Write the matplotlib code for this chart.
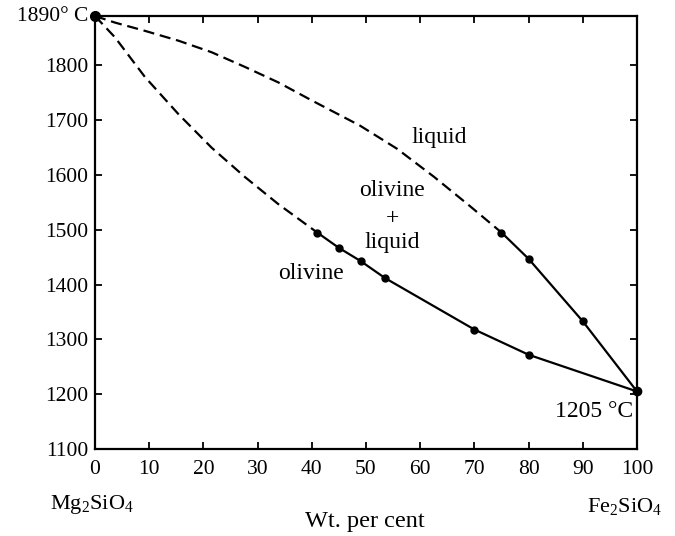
import matplotlib
matplotlib.use("Agg")
import matplotlib.pyplot as plt

plt.rcParams['font.family'] = ['Liberation Serif', 'DejaVu Serif']
plt.rcParams['mathtext.fontset'] = 'custom'
plt.rcParams['mathtext.rm'] = 'Liberation Serif'

liq_dash_x = [0, 3.7, 9.2, 15.4, 21.5, 27.7, 33.8, 40, 48.9, 55.7, 62.5, 69.2, 75]
liq_dash_y = [1890, 1878, 1863, 1845, 1824, 1797, 1769, 1736, 1690, 1648, 1597, 1543, 1495]
liq_pts_x = [75, 80, 90, 100]
liq_pts_y = [1495, 1447, 1333, 1205]

# solidus (lower curve)
sol_dash_x = [0, 3.7, 9.2, 15.4, 21.5, 27.7, 33.8, 41]
sol_dash_y = [1890, 1851, 1779, 1711, 1650, 1596, 1547, 1495]
sol_pts_x = [41, 45, 49, 53.5, 70, 80, 100]
sol_pts_y = [1495, 1467, 1443, 1412, 1318, 1272, 1205]

x_ticks = [0, 10, 20, 30, 40, 50, 60, 70, 80, 90, 100]
y_ticks = [1100, 1200, 1300, 1400, 1500, 1600, 1700, 1800]

fig = plt.figure(figsize=(6.75, 5.36), dpi=100)
ax = fig.add_axes([0.1407, 0.1623, 0.803, 0.8078])

dash = dict(color='black', lw=1.6, dashes=(5, 2.6))
ax.plot(liq_dash_x, liq_dash_y, **dash)
ax.plot(sol_dash_x, sol_dash_y, **dash)
ax.plot(liq_pts_x, liq_pts_y, color='black', lw=1.6, marker='o', ms=5)
ax.plot(sol_pts_x, sol_pts_y, color='black', lw=1.6, marker='o', ms=5)
ax.plot([0], [1890], 'ko', ms=7, clip_on=False, zorder=5)
ax.plot([100], [1205], 'ko', ms=6, clip_on=False, zorder=5)

ax.set_xlim(0, 100)
ax.set_ylim(1100, 1890)
ax.set_xticks(x_ticks)
ax.set_xticklabels([str(v) for v in x_ticks])
ax.set_yticks(y_ticks)
ax.set_yticklabels([str(v) for v in y_ticks])
ax.tick_params(direction='in', length=5, width=1.3, labelsize=15.5,
               top=True, right=True)
ax.tick_params(axis='x', pad=8)
ax.tick_params(axis='y', pad=5)
for s in ax.spines.values():
    s.set_linewidth(1.6)

fs = 17
ax.text(63.5, 1669, 'liquid', fontsize=fs, ha='center', va='center')
ax.text(54.8, 1572, 'olivine', fontsize=fs, ha='center', va='center')
ax.text(54.8, 1521, '+', fontsize=fs, ha='center', va='center')
ax.text(54.8, 1476, 'liquid', fontsize=fs, ha='center', va='center')
ax.text(39.9, 1421, 'olivine', fontsize=fs, ha='center', va='center')
ax.text(99.3, 1168, '1205 °C', fontsize=fs, ha='right', va='center')
ax.text(-1.3, 1890, '1890° C', fontsize=15.5, ha='right', va='center')

fig.text(50 / 675, 1 - 505 / 536, r'Mg$_2$SiO$_4$', fontsize=16, ha='left', va='center')
fig.text(662 / 675, 1 - 507 / 536, r'Fe$_2$SiO$_4$', fontsize=16, ha='right', va='center')
fig.text(365 / 675, 1 - 522 / 536, 'Wt. per cent', fontsize=17.5, ha='center', va='center')

fig.savefig('out.png', dpi=100, facecolor='white')
